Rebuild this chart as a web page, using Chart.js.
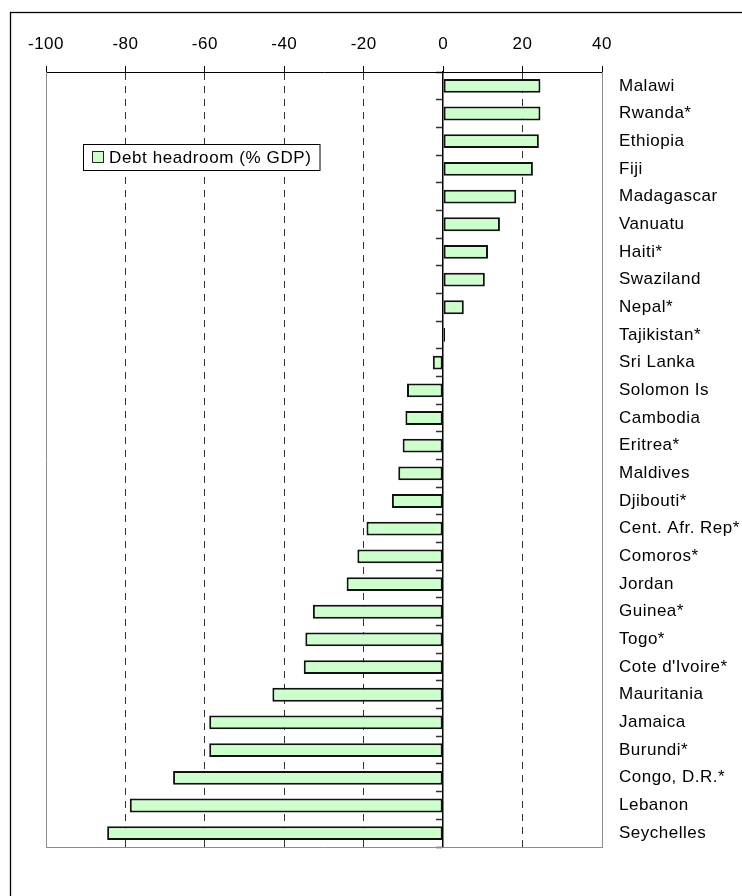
<!DOCTYPE html>
<html>
<head>
<meta charset="utf-8">
<script src="https://cdn.jsdelivr.net/npm/chart.js@4/dist/chart.umd.min.js"></script>
<style>
  html, body { margin: 0; padding: 0; background: #fff; }
  #wrap { position: relative; width: 742px; height: 896px; }
</style>
</head>
<body>
<div id="wrap"><canvas id="chart"></canvas></div>
<script>
// Countries, top to bottom
const countries = [
    'Malawi', 'Rwanda*', 'Ethiopia', 'Fiji', 'Madagascar', 'Vanuatu', 'Haiti*',
    'Swaziland', 'Nepal*', 'Tajikistan*', 'Sri Lanka', 'Solomon Is', 'Cambodia',
    'Eritrea*', 'Maldives', 'Djibouti*', 'Cent. Afr. Rep*', 'Comoros*', 'Jordan',
    'Guinea*', 'Togo*', "Cote d'Ivoire*", 'Mauritania', 'Jamaica', 'Burundi*',
    'Congo, D.R.*', 'Lebanon', 'Seychelles'
];

// Debt headroom, % of GDP
const headroom = [
    24.5, 24.5, 24.1, 22.6, 18.4, 14.3, 11.3,
    10.5, 5.2, 0.5, -2.6, -9.1, -9.5,
    -10.2, -11.3, -12.9, -19.3, -21.6, -24.3,
    -32.8, -34.7, -35.1, -43.0, -58.9, -58.9,
    -68.0, -78.9, -84.6
];

const seriesLabel = 'Debt headroom (% GDP)';
const xMin = -100;
const xMax = 40;
const xStep = 20;

const FONT = '"Liberation Sans", Arial, sans-serif';
const SPACING = '0.5px';

/** Keep the slightly wide text spacing on every measure and draw */
const spacingPlugin = {
    id: 'spacing',
    beforeLayout(chart) { chart.ctx.letterSpacing = SPACING; },
    beforeDraw(chart) { chart.ctx.letterSpacing = SPACING; }
};

/** Outer frame plus the grey left/bottom edges of the plot area */
const framePlugin = {
    id: 'frame',
    beforeDatasetsDraw(chart) {
        const { ctx, chartArea: a } = chart;
        ctx.save();
        ctx.strokeStyle = '#000';
        ctx.lineWidth = 1.3;
        ctx.strokeRect(10.5, 12.5, 1000, 1000);
        ctx.strokeStyle = '#8c8c8c';
        ctx.lineWidth = 1;
        ctx.beginPath();
        ctx.moveTo(Math.round(a.left) + 0.5, a.top);
        ctx.lineTo(Math.round(a.left) + 0.5, Math.round(a.bottom) + 0.5);
        ctx.lineTo(a.right, Math.round(a.bottom) + 0.5);
        ctx.stroke();
        ctx.restore();
    }
};

/** Boxed legend sitting inside the plot area */
const boxLegendPlugin = {
    id: 'boxLegend',
    afterDraw(chart) {
        const { ctx } = chart;
        const ds = chart.data.datasets[0];
        ctx.save();
        ctx.letterSpacing = '0.6px';
        ctx.font = '17px ' + FONT;
        const tw = ctx.measureText(ds.label).width;
        const x0 = 83, y0 = 144, h = 26;
        const w = (109 - x0) + tw + 8;
        ctx.fillStyle = '#fff';
        ctx.fillRect(x0, y0, w, h);
        ctx.strokeStyle = '#000';
        ctx.lineWidth = 1;
        ctx.strokeRect(x0 + 0.5, y0 + 0.5, w, h);
        ctx.fillStyle = ds.backgroundColor;
        ctx.fillRect(92.5, 151.5, 11, 11);
        ctx.strokeStyle = '#222';
        ctx.strokeRect(92.5, 151.5, 11, 11);
        ctx.fillStyle = '#000';
        ctx.textBaseline = 'middle';
        ctx.textAlign = 'left';
        ctx.fillText(ds.label, 109, y0 + h / 2 + 1);
        ctx.restore();
    }
};

const gridColor = (ctx) => {
    const v = ctx.tick ? ctx.tick.value : null;
    return (v === xMin || v === 0 || v === xMax) ? 'rgba(0,0,0,0)' : '#333';
};

new Chart(document.getElementById('chart'), {
    type: 'bar',
    data: {
        labels: countries,
        datasets: [{
            label: seriesLabel,
            data: headroom,
            backgroundColor: '#ccffcc',
            borderColor: '#111',
            borderWidth: 2,
            borderSkipped: false,
            barPercentage: 0.5,
            categoryPercentage: 1
        }]
    },
    options: {
        indexAxis: 'y',
        responsive: true,
        maintainAspectRatio: false,
        animation: false,
        layout: { padding: { left: 46, right: 0, top: 0, bottom: 49 } },
        plugins: {
            legend: { display: false },
            tooltip: { enabled: false }
        },
        scales: {
            x: {
                position: 'top',
                min: xMin,
                max: xMax,
                ticks: {
                    stepSize: xStep,
                    color: '#000',
                    font: { family: FONT, size: 17 },
                    padding: 11,
                    maxRotation: 0
                },
                grid: {
                    color: gridColor,
                    lineWidth: 1,
                    tickLength: 6,
                    tickColor: '#000',
                    tickWidth: 1
                },
                border: { color: '#000', width: 1, dash: [7, 6] },
                afterFit(scale) { scale.height = 72; }
            },
            y: {
                position: 'right',
                offset: true,
                ticks: {
                    color: '#000',
                    font: { family: FONT, size: 17 },
                    padding: 17
                },
                grid: { display: false, drawTicks: false, offset: true },
                border: { color: '#8c8c8c', width: 1 },
                afterFit(scale) { scale.width = 140; }
            },
            // zero line with category tick marks
            yZero: {
                type: 'category',
                position: { x: 0 },
                offset: true,
                ticks: { display: false },
                grid: {
                    offset: true,
                    drawOnChartArea: false,
                    tickLength: 6,
                    tickColor: '#333',
                    tickWidth: 1.5
                },
                border: { color: '#000', width: 1.5 }
            }
        }
    },
    plugins: [spacingPlugin, framePlugin, boxLegendPlugin]
});
</script>
</body>
</html>
